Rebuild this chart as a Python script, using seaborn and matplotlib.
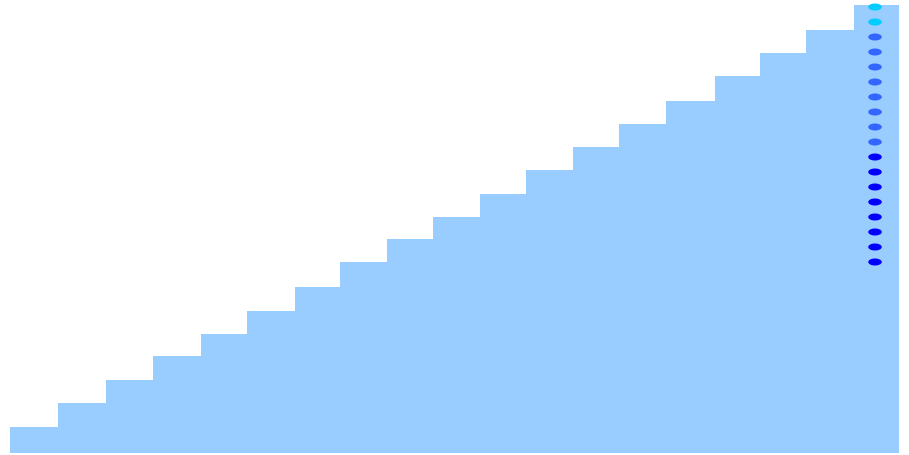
import numpy as np
import pandas as pd
import matplotlib
matplotlib.use("Agg")
import matplotlib.pyplot as plt
import seaborn as sns

# staircase: edges of the 19 steps and height of each step
step_edges = [0, 48, 96, 143, 191, 237, 285, 330, 377, 423, 470, 516,
              563, 609, 656, 705, 750, 796, 844, 889]
step_heights = [26, 50, 73, 97, 119, 142, 166, 191, 214, 236, 259, 283,
                306, 329, 352, 377, 400, 423, 448]

# dots along the last step
dot_x = 865
dot_values = [446, 431, 416, 401, 386, 371, 356, 341, 326, 311,
              296, 281, 266, 251, 236, 221, 206, 191]
dot_groups = ["a"] * 2 + ["b"] * 8 + ["c"] * 8
group_colors = {"a": "#00ccff", "b": "#3366ff", "c": "#0000ff"}

sns.set_style("white")
fig = plt.figure(figsize=(9.09, 4.55), dpi=100)
ax = fig.add_axes([0, 0, 1, 1])

y = step_heights + [step_heights[-1]]
ax.fill_between(step_edges, y, step="post", color="#99ccff", linewidth=0)

t = np.linspace(0, 2 * np.pi, 40)
ellipse = np.column_stack([np.cos(t), 0.52 * np.sin(t)])

dots = pd.DataFrame({"x": dot_x, "y": dot_values, "g": dot_groups})
sns.scatterplot(data=dots, x="x", y="y", hue="g", palette=group_colors,
                marker=ellipse, s=95, linewidth=0, legend=False, ax=ax)

ax.set_xlim(-10, 899)
ax.set_ylim(-2, 453)
ax.axis("off")

fig.savefig("out.png", dpi=100)
